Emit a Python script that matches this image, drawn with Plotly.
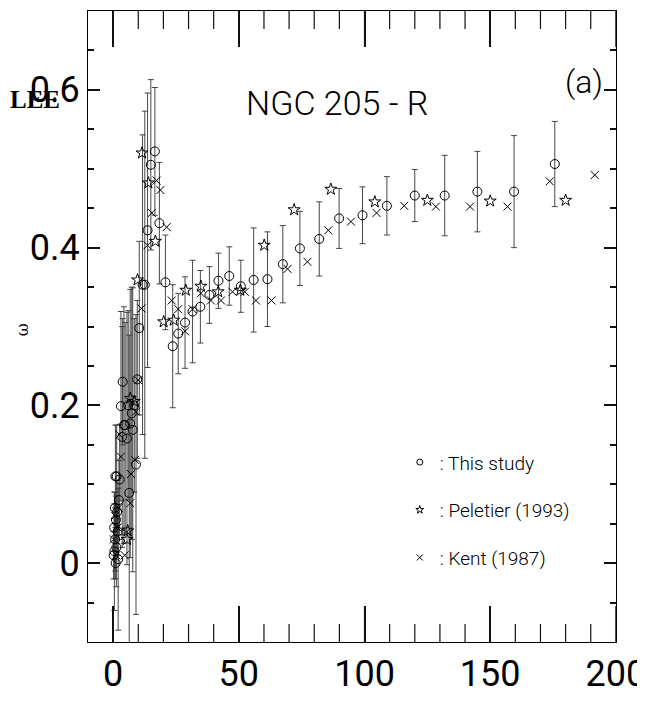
import plotly.graph_objects as go

# ---------------- data ----------------
# This study (circles with error bars)
study_r = [0.2, 0.4, 0.5, 0.7, 0.8, 0.9, 1.0, 1.1, 1.3, 1.4, 1.6, 1.8, 2.0, 2.3, 2.6,
           3.1, 3.6, 3.8, 4.3, 4.8, 5.5, 6.0, 6.4, 6.8, 7.4, 7.8, 8.4, 9.1, 9.6,
           10.4, 11.7, 12.6, 13.7, 15.0, 16.6, 18.4, 20.8,
           23.7, 25.9, 28.6, 31.6, 34.7, 38.3, 41.9, 46.2, 50.8, 55.9, 61.4, 67.5,
           74.3, 82.0, 89.9, 99.2, 108.9, 120.0, 131.9, 144.9, 159.5, 175.7]
study_w = [0.010, 0.045, 0.015, 0.070, 0.030, 0.110, 0.000, 0.055, 0.020, 0.110, 0.065, 0.040, 0.005, 0.080, 0.106,
           0.199, 0.160, 0.230, 0.175, 0.175, 0.158, 0.200, 0.089, 0.177, 0.190, 0.169, 0.200, 0.125, 0.233,
           0.298, 0.353, 0.353, 0.422, 0.505, 0.522, 0.431, 0.356,
           0.275, 0.291, 0.305, 0.319, 0.325, 0.340, 0.358, 0.364, 0.351, 0.359, 0.360, 0.379,
           0.399, 0.411, 0.437, 0.441, 0.453, 0.466, 0.466, 0.471, 0.471, 0.506]
study_err = [0.030, 0.030, 0.075, 0.020, 0.040, 0.065, 0.020, 0.030, 0.050, 0.065, 0.040, 0.030, 0.090, 0.050, 0.070,
             0.120, 0.140, 0.080, 0.150, 0.130, 0.160, 0.120, 0.200, 0.170, 0.160, 0.180, 0.110, 0.190, 0.100,
             0.110, 0.190, 0.220, 0.174, 0.108, 0.081, 0.077, 0.060,
             0.078, 0.051, 0.058, 0.065, 0.046, 0.036, 0.035, 0.037, 0.033, 0.066, 0.060, 0.049,
             0.047, 0.047, 0.038, 0.036, 0.037, 0.033, 0.051, 0.051, 0.071, 0.054]

# Peletier (1993) (stars)
pel_r = [5.5, 5.8, 6.8, 8.4, 9.7, 11.5, 14.0, 16.8,
         20.1, 24.1, 28.9, 34.9, 41.8, 50.6, 60.1, 72.0, 86.6, 104.1, 125.0, 150.0, 180.0]
pel_w = [0.030, 0.041, 0.209, 0.205, 0.359, 0.520, 0.482, 0.408,
         0.306, 0.308, 0.346, 0.351, 0.344, 0.346, 0.403, 0.448, 0.474, 0.458, 0.460, 0.459, 0.460]

# Kent (1987) (crosses)
kent_r = [0.3, 0.8, 1.2, 1.7, 2.2, 2.5, 3.1, 4.6, 5.5, 6.8, 7.1, 8.7, 9.1, 10.0, 11.3,
          13.7, 15.4, 17.3, 18.8, 21.3,
          23.3, 25.9, 28.6, 31.6, 34.9, 38.9, 42.9, 47.5, 52.4, 56.8, 63.0, 69.4, 77.3,
          85.6, 94.6, 104.8, 115.8, 128.4, 142.0, 156.9, 173.7, 191.6]
kent_w = [0.030, 0.060, 0.010, 0.045, 0.070, 0.163, 0.135, 0.010, 0.040, 0.076, 0.113, 0.131, 0.192, 0.232, 0.323,
          0.403, 0.444, 0.485, 0.473, 0.426,
          0.333, 0.322, 0.294, 0.322, 0.342, 0.333, 0.333, 0.344, 0.344, 0.333, 0.333, 0.373, 0.382,
          0.422, 0.433, 0.444, 0.453, 0.452, 0.452, 0.452, 0.484, 0.492]

series_names = [": This study", ": Peletier (1993)", ": Kent (1987)"]

# axis tick values
x_major = [0, 50, 100, 150, 200]
x_minor = [v for v in range(10, 200, 10) if v % 50 != 0]

THIN = "Roboto, Lato, sans-serif"
CLEAR = "rgba(0,0,0,0)"
TICK = "#111111"

fig = go.Figure()

# data traces
fig.add_trace(go.Scatter(
    x=study_r, y=study_w, mode="markers", showlegend=False,
    marker=dict(symbol="circle-open", size=9, color="black", line=dict(width=1)),
    error_y=dict(type="data", array=study_err, visible=True, color="#333333",
                 thickness=0.9, width=3),
))
fig.add_trace(go.Scatter(
    x=pel_r, y=pel_w, mode="markers", showlegend=False,
    marker=dict(symbol="star-open", size=9, color="black", line=dict(width=1)),
))
fig.add_trace(go.Scatter(
    x=kent_r, y=kent_w, mode="markers", showlegend=False,
    marker=dict(symbol="x-thin-open", size=8, color="black", line=dict(width=1, color="black")),
))

# legend entries (small symbols, like the reference key)
legend_symbols = ["circle-open", "star-open", "x-thin-open"]
for i, (nm, sym) in enumerate(zip(series_names, legend_symbols)):
    fig.add_trace(go.Scatter(
        x=[None], y=[None], mode="markers", name=nm, legendgroup=str(i),
        marker=dict(symbol=sym, size=6, color="black", line=dict(width=1, color="black")),
    ))

fig.update_layout(
    width=645, height=710,
    margin=dict(l=80, r=37, t=3, b=76),
    paper_bgcolor="white", plot_bgcolor="white",
    showlegend=True,
    legend=dict(x=0.5905, y=0.315, xanchor="left", yanchor="top",
                font=dict(family=THIN, size=19, color="black", weight=300),
                tracegroupgap=20, itemwidth=30,
                bgcolor=CLEAR),
)

fig.update_xaxes(
    range=[-10, 200.05], tickmode="array", tickvals=x_major,
    ticks="inside", ticklen=36, tickwidth=1.5, tickcolor=TICK,
    showline=True, linecolor="black", mirror="allticks",
    gridcolor=CLEAR, zerolinecolor=CLEAR,
    tickfont=dict(family=THIN, size=36, color="black"),
)
fig.update_yaxes(
    range=[-0.1, 0.7], tickmode="linear", tick0=0, dtick=0.2,
    ticks="inside", ticklen=12, tickwidth=1.5, tickcolor=TICK,
    showline=True, linecolor="black", mirror="allticks",
    gridcolor=CLEAR, zerolinecolor=CLEAR,
    tickfont=dict(family=THIN, size=36, color="black"),
    minor=dict(dtick=0.05, ticks="inside", ticklen=6, tickwidth=1.5, tickcolor=TICK),
)

# x-axis tick marks (bottom and top), placed on the x scale
PLOT_H = 710 - 3 - 76
for vals, ln in ((x_major, 36), (x_minor, 18)):
    frac = ln / PLOT_H
    for v in vals:
        fig.add_shape(type="line", xref="x", yref="paper", x0=v, x1=v, y0=0, y1=frac,
                      line=dict(color=TICK, width=1.2))
        fig.add_shape(type="line", xref="x", yref="paper", x0=v, x1=v, y0=1 - frac, y1=1,
                      line=dict(color=TICK, width=1.2))

fig.add_annotation(x=89, y=0.583, xref="x", yref="y", text="NGC 205 - R", showarrow=False,
                   xanchor="center", yanchor="middle",
                   font=dict(family=THIN, size=34, color="black", weight=300))
fig.add_annotation(x=187.5, y=0.61, xref="x", yref="y", text="(a)", showarrow=False,
                   xanchor="center", yanchor="middle",
                   font=dict(family=THIN, size=32, color="black", weight=300))
fig.add_annotation(x=-0.1, y=0.86, xref="paper", yref="paper", text="<b>LEE</b>", showarrow=False,
                   xanchor="center", yanchor="middle",
                   font=dict(family="Liberation Serif, DejaVu Serif, serif", size=25, color="black"))
fig.add_annotation(x=-0.125, y=0.494, xref="paper", yref="paper", text="ω", showarrow=False,
                   xanchor="center", yanchor="middle",
                   textangle=-90, font=dict(family="DejaVu Serif, serif", size=16, color="black"))

fig.write_html("out.html")
